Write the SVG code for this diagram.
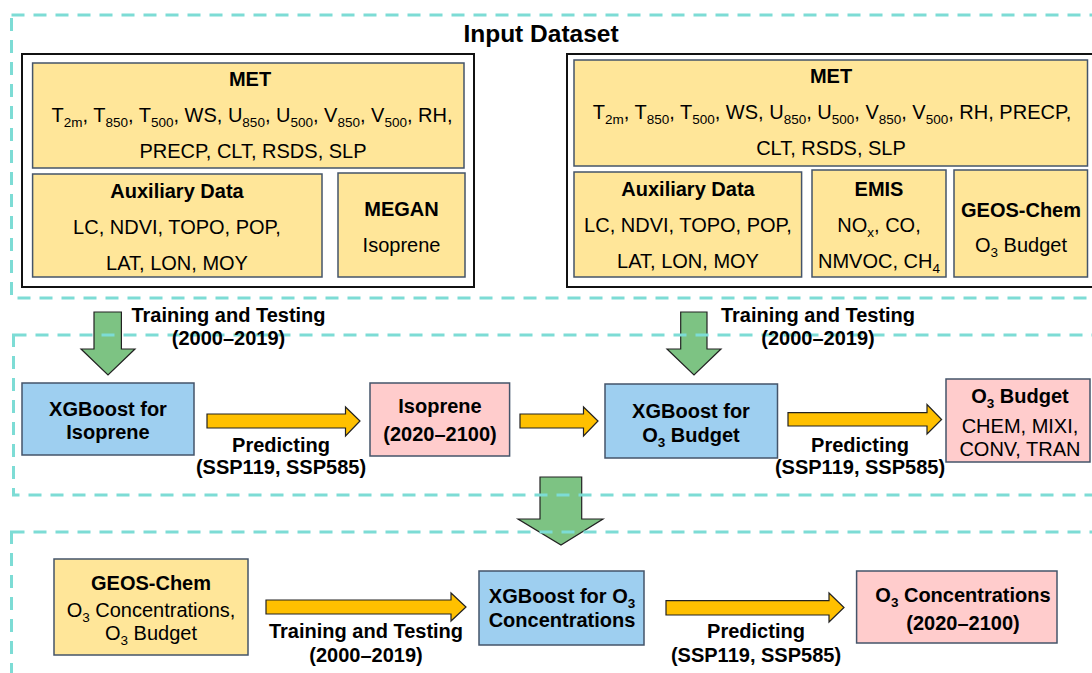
<svg xmlns="http://www.w3.org/2000/svg" width="1092" height="673" viewBox="0 0 1092 673">
<style>
text{font-family:"Liberation Sans",Arial,sans-serif;fill:#000;text-anchor:middle}
.r{font-size:20px}
.b{font-size:20px;font-weight:bold}
.t{font-size:24.5px;font-weight:bold}
.s{font-size:13.5px}
.sec{fill:none;stroke:#7DDCD5;stroke-width:3;stroke-dasharray:13 9}
.blk{fill:#fff;stroke:#111;stroke-width:2}
.y{fill:#FFE699;stroke:#44546A;stroke-width:1.5}
.bl{fill:#9ECFF0;stroke:#44546A;stroke-width:1.5}
.pk{fill:#FFCCCC;stroke:#44546A;stroke-width:1.5}
.oa{fill:#FFC000;stroke:#222;stroke-width:1.2}
.ga{fill:#7DC383;stroke:#222;stroke-width:1.2}
</style>

<g id="input-frames">
<rect class="blk" x="22" y="54" width="452" height="233"/>
<rect class="blk" x="567" y="54" width="540" height="233"/>
</g>

<g id="connectors">
<polygon class="ga" points="94,312 121.4,312 121.4,349 135,349 108,375 81,349 94,349"/>
<polygon class="ga" points="680.7,312 707,312 707,349 721,349 694,375 667,349 680.7,349"/>
<polygon class="ga" points="540,477 581.7,477 581.7,519 603,519 561,545 518,519 540,519"/>
<polygon class="oa" points="207,414 345.5,414 345.5,407 360,421 345.5,436 345.5,428 207,428"/>
<polygon class="oa" points="520,414 583.5,414 583.5,407 598,421 583.5,436 583.5,428 520,428"/>
<polygon class="oa" points="788,412.7 927,412.7 927,404.5 941.6,419.5 927,434 927,426 788,426"/>
<polygon class="oa" points="266,600 451,600 451,593 466,607 451,621 451,614 266,614"/>
<polygon class="oa" points="666,600.7 829,600.7 829,593 844,607.5 829,622 829,615 666,615"/>
</g>

<g id="sections">
<rect class="sec" x="11.5" y="15" width="1100" height="283"/>
<rect class="sec" x="13.5" y="335" width="1100" height="160"/>
<rect class="sec" x="11.5" y="532" width="1100" height="160"/>
</g>

<g id="title">
<text class="t" x="541" y="42">Input Dataset</text>
</g>

<g id="met-left">
<rect class="y" x="32.6" y="63" width="431.4" height="105"/>
<text class="b" x="250" y="86">MET</text>
<text class="r" x="252" y="122">T<tspan class="s" dy="5">2m</tspan><tspan dy="-5">, T</tspan><tspan class="s" dy="5">850</tspan><tspan dy="-5">, T</tspan><tspan class="s" dy="5">500</tspan><tspan dy="-5">, WS, U</tspan><tspan class="s" dy="5">850</tspan><tspan dy="-5">, U</tspan><tspan class="s" dy="5">500</tspan><tspan dy="-5">, V</tspan><tspan class="s" dy="5">850</tspan><tspan dy="-5">, V</tspan><tspan class="s" dy="5">500</tspan><tspan dy="-5">, RH,</tspan></text>
<text class="r" x="253" y="158">PRECP, CLT, RSDS, SLP</text>
</g>

<g id="aux-left">
<rect class="y" x="32.6" y="174" width="289.4" height="103"/>
<text class="b" x="177" y="198">Auxiliary Data</text>
<text class="r" x="177" y="234">LC, NDVI, TOPO, POP,</text>
<text class="r" x="177" y="270">LAT, LON, MOY</text>
</g>

<g id="megan">
<rect class="y" x="338" y="173" width="127" height="104"/>
<text class="b" x="401.5" y="216">MEGAN</text>
<text class="r" x="401.5" y="252">Isoprene</text>
</g>

<g id="met-right">
<rect class="y" x="574" y="60" width="513.5" height="106"/>
<text class="b" x="831" y="83">MET</text>
<text class="r" x="832" y="119">T<tspan class="s" dy="5">2m</tspan><tspan dy="-5">, T</tspan><tspan class="s" dy="5">850</tspan><tspan dy="-5">, T</tspan><tspan class="s" dy="5">500</tspan><tspan dy="-5">, WS, U</tspan><tspan class="s" dy="5">850</tspan><tspan dy="-5">, U</tspan><tspan class="s" dy="5">500</tspan><tspan dy="-5">, V</tspan><tspan class="s" dy="5">850</tspan><tspan dy="-5">, V</tspan><tspan class="s" dy="5">500</tspan><tspan dy="-5">, RH, PRECP,</tspan></text>
<text class="r" x="831" y="155">CLT, RSDS, SLP</text>
</g>

<g id="aux-right">
<rect class="y" x="574" y="172" width="227.6" height="105"/>
<text class="b" x="688" y="196">Auxiliary Data</text>
<text class="r" x="688" y="232">LC, NDVI, TOPO, POP,</text>
<text class="r" x="688" y="268">LAT, LON, MOY</text>
</g>

<g id="emis">
<rect class="y" x="812" y="170" width="134" height="107"/>
<text class="b" x="879" y="196">EMIS</text>
<text class="r" x="879" y="232">NO<tspan class="s" dy="5">x</tspan><tspan dy="-5">, CO,</tspan></text>
<text class="r" x="879" y="268">NMVOC, CH<tspan class="s" dy="5">4</tspan></text>
</g>

<g id="geos-input">
<rect class="y" x="954" y="170" width="133.5" height="107"/>
<text class="b" x="1021" y="217">GEOS-Chem</text>
<text class="r" x="1021" y="252">O<tspan class="s" dy="5">3</tspan><tspan dy="-5"> Budget</tspan></text>
</g>

<g id="xgb-isoprene">
<rect class="bl" x="22" y="383" width="172" height="72"/>
<text class="b" x="108" y="416">XGBoost for</text>
<text class="b" x="108" y="439">Isoprene</text>
</g>

<g id="isoprene-future">
<rect class="pk" x="370" y="383" width="139.6" height="73"/>
<text class="b" x="440" y="413">Isoprene</text>
<text class="b" x="440" y="441">(2020–2100)</text>
</g>

<g id="xgb-budget">
<rect class="bl" x="605" y="384" width="172.5" height="74"/>
<text class="b" x="691" y="418">XGBoost for</text>
<text class="b" x="691" y="442">O<tspan class="s" dy="5">3</tspan><tspan dy="-5"> Budget</tspan></text>
</g>

<g id="budget-future">
<rect class="pk" x="946" y="379" width="144" height="83"/>
<text class="b" x="1020" y="403">O<tspan class="s" dy="5">3</tspan><tspan dy="-5"> Budget</tspan></text>
<text class="r" x="1020" y="433">CHEM, MIXI,</text>
<text class="r" x="1020" y="456">CONV, TRAN</text>
</g>

<g id="geos-bottom">
<rect class="y" x="54" y="559" width="194" height="96"/>
<text class="b" x="151" y="590">GEOS-Chem</text>
<text class="r" x="151" y="617">O<tspan class="s" dy="5">3</tspan><tspan dy="-5"> Concentrations,</tspan></text>
<text class="r" x="151" y="640">O<tspan class="s" dy="5">3</tspan><tspan dy="-5"> Budget</tspan></text>
</g>

<g id="xgb-conc">
<rect class="bl" x="479" y="571" width="165" height="74"/>
<text class="b" x="562" y="603">XGBoost for O<tspan class="s" dy="5">3</tspan></text>
<text class="b" x="562" y="627">Concentrations</text>
</g>

<g id="conc-future">
<rect class="pk" x="856.6" y="571" width="200.4" height="72"/>
<text class="b" x="963" y="602">O<tspan class="s" dy="5">3</tspan><tspan dy="-5"> Concentrations</tspan></text>
<text class="b" x="963" y="630">(2020–2100)</text>
</g>

<g id="labels">
<text class="b" x="228.5" y="322">Training and Testing</text>
<text class="b" x="228.5" y="345">(2000–2019)</text>
<text class="b" x="818" y="322">Training and Testing</text>
<text class="b" x="818" y="345">(2000–2019)</text>
<text class="b" x="281" y="452">Predicting</text>
<text class="b" x="281" y="474">(SSP119, SSP585)</text>
<text class="b" x="860" y="452">Predicting</text>
<text class="b" x="860" y="474">(SSP119, SSP585)</text>
<text class="b" x="366" y="638">Training and Testing</text>
<text class="b" x="366" y="662">(2000–2019)</text>
<text class="b" x="756" y="638">Predicting</text>
<text class="b" x="756" y="662">(SSP119, SSP585)</text>
</g>
</svg>
